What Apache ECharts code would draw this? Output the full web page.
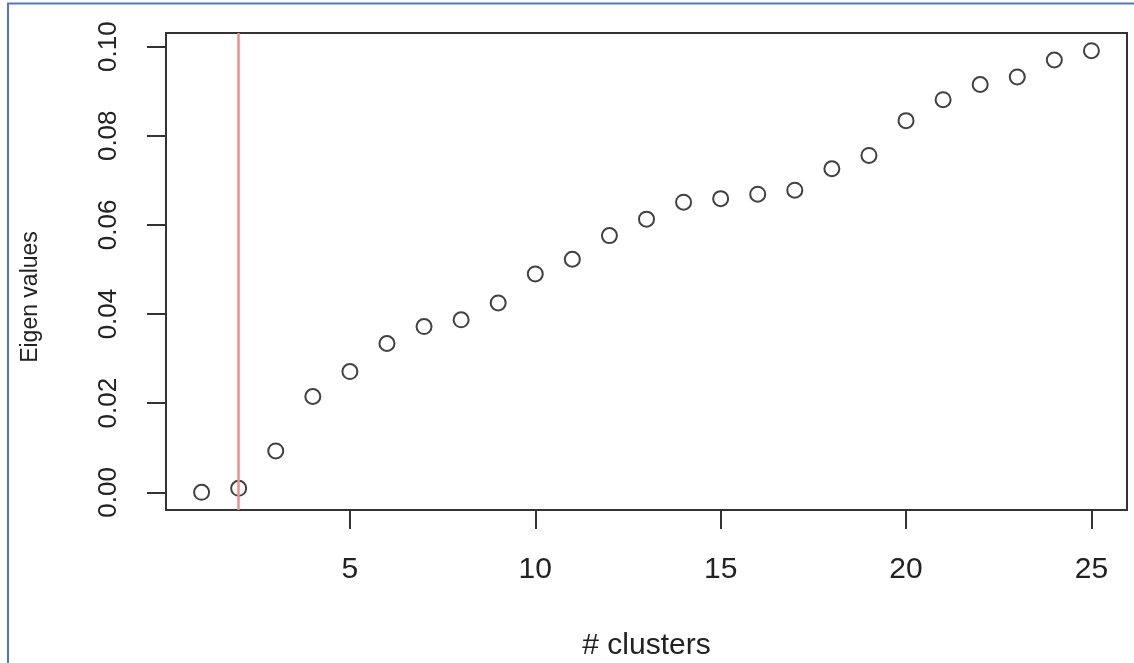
<!DOCTYPE html>
<html>
<head>
<meta charset="utf-8">
<script src="https://cdn.jsdelivr.net/npm/echarts@6/dist/echarts.min.js"></script>
<style>
  html, body { margin: 0; padding: 0; background: #fff; }
  #chart { width: 1134px; height: 663px; }
</style>
</head>
<body>
<div id="chart"></div>
<script>
// Number of clusters (x) and the matching eigenvalues (y)
const clusters = [1, 2, 3, 4, 5, 6, 7, 8, 9, 10, 11, 12, 13, 14, 15, 16, 17, 18, 19, 20, 21, 22, 23, 24, 25];
const eigenValues = [0.0000, 0.0009, 0.0093, 0.0215, 0.0271, 0.0334, 0.0372, 0.0387, 0.0425, 0.0490,
                     0.0523, 0.0576, 0.0613, 0.0651, 0.0659, 0.0669, 0.0678, 0.0726, 0.0756, 0.0834,
                     0.0881, 0.0915, 0.0932, 0.0970, 0.0991];
// Chosen number of clusters, marked with a vertical line
const chosenK = 2;
// Tick positions
const xTicks = [5, 10, 15, 20, 25];
const yTicks = [0.00, 0.02, 0.04, 0.06, 0.08, 0.10];
// Axis ranges padded by 4% on each side
const xRange = [0.04, 25.96];
const yRange = [-0.00396, 0.10306];

const chart = echarts.init(document.getElementById('chart'), null, { renderer: 'canvas' });
const FONT = 'Liberation Sans, Arial, Helvetica, sans-serif';
const INK = '#222';
const FRAME = '#333';

chart.setOption({
  animation: false,
  backgroundColor: '#fff',
  grid: {
    left: 166, top: 33, right: 7, bottom: 153,
    outerBoundsMode: 'none',
    containLabel: false,
    show: true, borderColor: FRAME, borderWidth: 2, backgroundColor: 'transparent'
  },
  xAxis: {
    type: 'value',
    min: xRange[0], max: xRange[1],
    name: '# clusters',
    nameLocation: 'middle',
    nameGap: 121,
    nameTextStyle: { fontFamily: FONT, fontSize: 30, color: INK },
    axisLine: { show: false, onZero: false },
    splitLine: { show: false },
    axisTick: { show: true, inside: false, length: 19, customValues: xTicks,
                lineStyle: { color: FRAME, width: 2 } },
    axisLabel: { customValues: xTicks, margin: 45, fontFamily: FONT, fontSize: 30, color: INK }
  },
  yAxis: {
    type: 'value',
    min: yRange[0], max: yRange[1],
    axisLine: { show: false, onZero: false },
    splitLine: { show: false },
    axisTick: { show: true, inside: false, length: 19, customValues: yTicks,
                lineStyle: { color: FRAME, width: 2 } },
    axisLabel: { customValues: yTicks, rotate: 90, margin: 44, fontFamily: FONT, fontSize: 26, color: INK,
                 formatter: v => v.toFixed(2) }
  },
  graphic: [
    { type: 'rect', silent: true, z: 100,
      shape: { x: 8, y: 3.5, width: 1200, height: 700 },
      style: { fill: 'none', stroke: '#4A78CC', lineWidth: 2 } },
    { type: 'text', silent: true, x: 31, y: 297, rotation: Math.PI / 2,
      style: { text: 'Eigen values', fontFamily: FONT, fontSize: 23, fill: INK,
               align: 'center', verticalAlign: 'middle' } }
  ],
  series: [{
    type: 'scatter',
    data: clusters.map((k, i) => [k, eigenValues[i]]),
    symbol: 'circle',
    symbolSize: 15,
    itemStyle: { color: 'rgba(255,255,255,0)', borderColor: '#111', borderWidth: 2 },
    markLine: {
      silent: true,
      symbol: 'none',
      label: { show: false },
      lineStyle: { color: '#F08C8C', type: 'solid', width: 2.5 },
      data: [{ xAxis: chosenK }]
    },
    z: 3
  }]
});
</script>
</body>
</html>
